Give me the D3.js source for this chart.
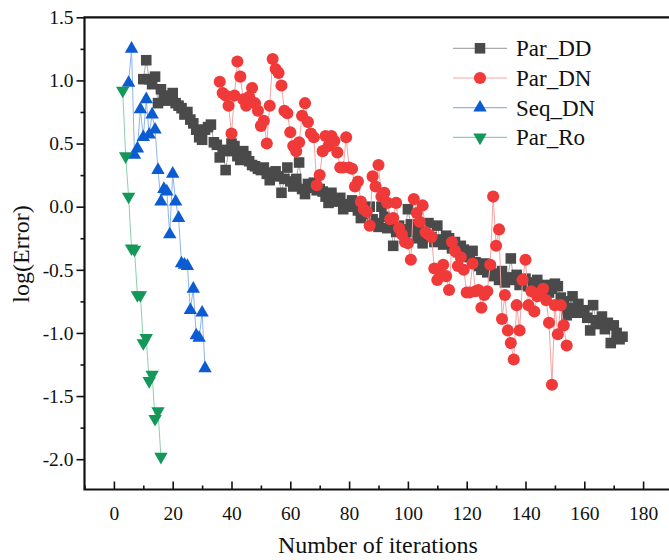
<!DOCTYPE html>
<html>
<head>
<meta charset="utf-8">
<script src="https://cdn.jsdelivr.net/npm/d3@7"></script>
<style>
  body { margin: 0; background: #fff; }
  svg { display: block; }
  text { font-family: "Liberation Serif", "Times New Roman", serif; fill: #111; }
</style>
</head>
<body>
<svg id="chart" width="669" height="560"></svg>
<script>
// Data

// Par_DD: one value per iteration, starting at iteration 10
const parDDStart = 10
const parDD = [
  1.01, 1.16, 1.01, 0.97, 1.03, 0.82, 0.93, 0.88, 0.84, 0.87,
  0.90, 0.82, 0.80, 0.78, 0.73, 0.75, 0.69, 0.66, 0.61, 0.55,
  0.53, 0.61, 0.63, 0.65, 0.51, 0.49, 0.39, 0.45, 0.29, 0.44,
  0.50, 0.48, 0.40, 0.37, 0.44, 0.40, 0.36, 0.33, 0.32, 0.30,
  0.29, 0.31, 0.26, 0.21, 0.27, 0.28, 0.24, 0.11, 0.22, 0.31,
  0.20, 0.16, 0.22, 0.35, 0.14, 0.10, 0.18, 0.15, 0.19, 0.13,
  0.14, 0.12, 0.08, 0.03, 0.11, 0.06, 0.04, 0.07, -0.02, 0.02,
  0.00, 0.05, 0.02, -0.03, -0.09, -0.04, -0.06, 0.00, -0.10, -0.13,
  -0.16, 0.00, -0.08, -0.17, -0.12, -0.31, -0.20, -0.15, -0.18, -0.22,
  -0.02, -0.14, -0.20, -0.25, -0.18, -0.29, -0.22, -0.13, -0.24, -0.28,
  -0.15, -0.26, -0.30, -0.23, -0.25, -0.33, -0.28, -0.36, -0.31, -0.34,
  -0.37, -0.40, -0.35, -0.44, -0.47, -0.50, -0.45, -0.52, -0.48, -0.55,
  -0.53, -0.58, -0.51, -0.60, -0.56, -0.41, -0.58, -0.54, -0.62, -0.59,
  -0.57, -0.63, -0.60, -0.66, -0.58, -0.64, -0.70, -0.62, -0.68, -0.65,
  -0.61, -0.63, -0.72, -0.75, -0.86, -0.80, -0.71, -0.84, -0.77, -0.84,
  -0.82, -0.88, -0.98, -0.78, -0.90, -0.93, -0.87, -0.97, -0.92, -1.08,
  -0.94, -1.00, -1.05, -1.03
]

// Par_DN: starts at iteration 36
const parDNStart = 36
const parDN = [
  0.99, 0.90, 0.88, 0.80, 0.58, 0.88, 1.15, 1.03, 0.85, 0.80,
  0.87, 0.94, 0.82, 0.76, 0.64, 0.68, 0.50, 0.80, 1.17, 1.09,
  1.06, 0.96, 0.76, 0.74, 0.59, 0.48, 0.44, 0.51, 0.72, 0.82,
  0.67, 0.58, 0.55, 0.17, 0.25, 0.44, 0.56, 0.48, 0.56, 0.52,
  0.43, 0.31, 0.31, 0.55, 0.31, 0.30, 0.16, 0.20, 0.04, -0.02,
  -0.04, -0.15, 0.24, 0.16, 0.33, 0.08, 0.11, 0.03, -0.10, -0.09,
  0.03, -0.17, -0.22, -0.28, -0.29, -0.42, 0.06, -0.05, -0.12, 0.01,
  -0.20, -0.22, -0.24, -0.49, -0.58, -0.54, -0.46, -0.55, -0.66, -0.28,
  -0.35, -0.47, -0.40, -0.50, -0.68, -0.68, -0.45, -0.67, -0.66, -0.80,
  -0.70, -0.67, -0.46, 0.08, -0.31, -0.18, -0.89, -0.70, -0.98, -1.08,
  -1.21, -0.78, -0.98, -0.58, -0.42, -0.78, -0.67, -0.83, -0.71, -0.68,
  -0.65, -0.74, -0.92, -1.41, -0.78, -1.01, -0.78, -0.94, -1.10
]

// Seq_DN: starts at iteration 5
const seqDNStart = 5
const seqDN = [
  0.98, 1.25, 0.41, 0.46, 0.77, 0.55, 0.85, 0.57, 0.73, 0.61,
  0.29, 0.04, 0.14, 0.12, -0.22, 0.26, 0.04, -0.09, -0.45, -0.46,
  -0.47, -0.82, -0.65, -1.02, -1.04, -0.84, -1.28
]

// Par_Ro: starts at iteration 3
const parRoStart = 3
const parRo = [
  0.92, 0.40, 0.08, -0.33, -0.34, -0.70, -0.70, -1.08, -1.04, -1.38,
  -1.33, -1.68, -1.62, -1.98
]

const seriesNames = ["Par_DD", "Par_DN", "Seq_DN", "Par_Ro"]
const xTicks = [0, 20, 40, 60, 80, 100, 120, 140, 160, 180]
const yTicks = [-2.0, -1.5, -1.0, -0.5, 0.0, 0.5, 1.0, 1.5]

function toPoints(start, values) {
  return values.map((v, i) => ({ x: start + i, y: v }))
}

const series = [
  { name: seriesNames[0], pts: toPoints(parDDStart, parDD), marker: d3.symbolSquare, size: 112, rot: 0, fill: "#4a4a4a", line: "#ababab" },
  { name: seriesNames[1], pts: toPoints(parDNStart, parDN), marker: d3.symbolCircle, size: 115, rot: 0, fill: "#f03a3a", line: "#f7a3a3" },
  { name: seriesNames[2], pts: toPoints(seqDNStart, seqDN), marker: d3.symbolTriangle, size: 78, rot: 0, fill: "#0b5bd3", line: "#8db4ee" },
  { name: seriesNames[3], pts: toPoints(parRoStart, parRo), marker: d3.symbolTriangle, size: 78, rot: 180, fill: "#14985a", line: "#8fd0ab" }
]

let svg = d3.select("#chart")

const plotLeft = 84.5, plotRight = 672.5, plotTop = 17.3, plotBottom = 489.5

let x = d3.scaleLinear().domain([-10, 190]).range([plotLeft, plotRight])
let y = d3.scaleLinear().domain([-2.24, 1.5]).range([plotBottom, plotTop])

// plain hyphen for negative tick labels, like the original
const fmtY = (d) => d3.format(".1f")(d).replace("\u2212", "-")

//
// Axes
//

// bottom axis, ticks point inward
let xAxis = svg.append("g")
    .attr("transform", `translate(0,${plotBottom})`)
    .call(d3.axisBottom(x).tickValues(xTicks).tickSize(-8).tickPadding(17).tickFormat(d3.format("d")))
xAxis.select(".domain").remove()
xAxis.selectAll("text").attr("font-size", "19.5px").attr("font-family", "Liberation Serif").attr("fill", "#111")
xAxis.selectAll("line").attr("stroke", "#111").attr("stroke-width", 1.6)

let xMinor = svg.append("g")
    .attr("transform", `translate(0,${plotBottom})`)
    .call(d3.axisBottom(x).tickValues(d3.range(-10, 191, 20)).tickSize(-4).tickFormat(""))
xMinor.select(".domain").remove()
xMinor.selectAll("line").attr("stroke", "#111").attr("stroke-width", 1.6)

// left axis, ticks point outward
let yAxis = svg.append("g")
    .attr("transform", `translate(${plotLeft},0)`)
    .call(d3.axisLeft(y).tickValues(yTicks).tickSize(8).tickPadding(3).tickFormat(fmtY))
yAxis.select(".domain").remove()
yAxis.selectAll("text").attr("font-size", "19.5px").attr("font-family", "Liberation Serif").attr("fill", "#111")
yAxis.selectAll("line").attr("stroke", "#111").attr("stroke-width", 1.6)

let yMinor = svg.append("g")
    .attr("transform", `translate(${plotLeft},0)`)
    .call(d3.axisLeft(y).tickValues(d3.range(-1.75, 1.5, 0.5)).tickSize(4).tickFormat(""))
yMinor.select(".domain").remove()
yMinor.selectAll("line").attr("stroke", "#111").attr("stroke-width", 1.6)

// frame lines
svg.append("path")
    .attr("d", `M${plotRight},${plotTop}H${plotLeft}V${plotBottom}H${plotRight}`)
    .attr("fill", "none")
    .attr("stroke", "#111")
    .attr("stroke-width", 2.2)

//
// Series
//

let line = d3.line().x(d => x(d.x)).y(d => y(d.y))

series.forEach((s) => {
  let g = svg.append("g").attr("class", "series")
  g.append("path")
      .datum(s.pts)
      .attr("d", line)
      .attr("fill", "none")
      .attr("stroke", s.line)
      .attr("stroke-width", 1)
  g.selectAll("path.mark")
    .data(s.pts)
    .enter().append("path")
      .attr("class", "mark")
      .attr("d", d3.symbol().type(s.marker).size(s.size))
      .attr("transform", d => `translate(${x(d.x)},${y(d.y)}) rotate(${s.rot})`)
      .attr("fill", s.fill)
})

//
// Titles
//

svg.append("text")
    .attr("x", 378)
    .attr("y", 553)
    .attr("text-anchor", "middle")
    .attr("font-size", "24px")
    .text("Number of iterations")

svg.append("text")
    .attr("transform", "translate(29,254) rotate(-90)")
    .attr("text-anchor", "middle")
    .attr("font-size", "24px")
    .text("log(Error)")

//
// Legend
//

let legend = svg.append("g")
series.forEach((s, i) => {
  const cy = 48.3 + i * 29.7
  legend.append("line")
      .attr("x1", 453).attr("x2", 507)
      .attr("y1", cy).attr("y2", cy)
      .attr("stroke", s.line)
      .attr("stroke-width", 1.2)
  legend.append("path")
      .attr("d", d3.symbol().type(s.marker).size(s.size))
      .attr("transform", `translate(480,${cy}) rotate(${s.rot})`)
      .attr("fill", s.fill)
  legend.append("text")
      .attr("x", 516)
      .attr("y", cy + 7.8)
      .attr("font-size", "23px")
      .text(s.name)
})
</script>
</body>
</html>
